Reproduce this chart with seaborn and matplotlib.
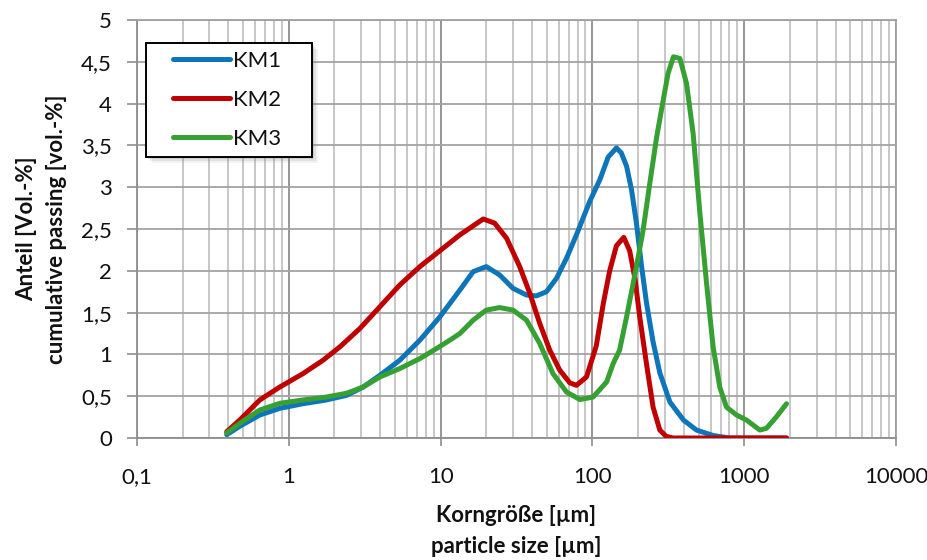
import matplotlib
matplotlib.use("Agg")
import matplotlib.pyplot as plt
import matplotlib.ticker as mticker
from matplotlib.patches import Rectangle
import seaborn as sns
import pandas as pd
import numpy as np

# ---- data ----
km1_x = [0.39, 0.475, 0.644, 0.873, 1.24, 1.77, 2.4, 3.09, 3.98, 5.38, 7.3, 9.9, 13.4, 16.4, 20, 24.5, 30,
         36.8, 42.8, 49.8, 58, 67.5, 78.5, 96, 112, 127, 144, 155, 168, 181, 195, 211, 227, 251, 278, 324,
         398, 485, 624, 800, 1200, 1900]
km1_y = [0.04, 0.14, 0.275, 0.355, 0.41, 0.455, 0.51, 0.61, 0.75, 0.93, 1.17, 1.45, 1.77, 1.99, 2.05, 1.95, 1.79,
         1.71, 1.70, 1.75, 1.91, 2.15, 2.43, 2.83, 3.09, 3.36, 3.47, 3.41, 3.25, 2.97, 2.57, 2.05, 1.62, 1.15, 0.78, 0.43,
         0.215, 0.095, 0.03, 0.0, 0.0, 0.0]

km2_x = [0.39, 0.475, 0.644, 0.873, 1.24, 1.68, 2.17, 2.94, 3.98, 5.38, 7.3, 9.9, 13.4, 19.1, 22.7, 27.2, 33.2,
         38.7, 45, 52.4, 61, 71, 78.5, 91.4, 106, 118, 130, 144, 161, 176, 191, 205, 227, 251, 278, 306, 340,
         600, 1000, 1900]
km2_y = [0.075, 0.215, 0.455, 0.61, 0.77, 0.93, 1.09, 1.31, 1.57, 1.83, 2.05, 2.24, 2.43, 2.62, 2.57, 2.39, 2.05,
         1.73, 1.37, 1.05, 0.81, 0.66, 0.63, 0.73, 1.10, 1.61, 2.0, 2.30, 2.40, 2.24, 1.90, 1.45, 0.89, 0.37, 0.095, 0.02, 0.0,
         0.0, 0.0, 0.0]

km3_x = [0.39, 0.475, 0.644, 0.873, 1.24, 1.77, 2.4, 3.09, 3.98, 5.38, 7.3, 9.4, 11.5, 13.4, 16.4, 20, 24.5, 30,
         36.8, 45, 55, 67.5, 82.7, 101, 112, 124, 137, 151, 168, 195, 216, 239, 265, 290, 315, 342, 377, 417, 461,
         510, 565, 624, 690, 764, 890, 1035, 1267, 1400, 1633, 1900]
km3_y = [0.06, 0.175, 0.335, 0.415, 0.455, 0.49, 0.535, 0.61, 0.73, 0.83, 0.95, 1.07, 1.17, 1.25, 1.41, 1.53, 1.56, 1.53,
         1.41, 1.13, 0.77, 0.55, 0.46, 0.49, 0.58, 0.67, 0.89, 1.05, 1.45, 2.05, 2.49, 3.05, 3.60, 4.0, 4.36, 4.56, 4.54, 4.24, 3.64,
         2.70, 1.85, 1.09, 0.61, 0.37, 0.275, 0.215, 0.095, 0.115, 0.255, 0.41]

series_names = ["KM1", "KM2", "KM3"]
colors = ["#0E75B8", "#C00000", "#37A032"]
x_ticks = [0.1, 1, 10, 100, 1000, 10000]
x_tick_labels = ["0,1", "1", "10", "100", "1000", "10000"]
y_ticks = [0, 0.5, 1, 1.5, 2, 2.5, 3, 3.5, 4, 4.5, 5]
y_tick_labels = ["0", "0,5", "1", "1,5", "2", "2,5", "3", "3,5", "4", "4,5", "5"]

df = pd.concat([
    pd.DataFrame({"x": km1_x, "y": km1_y, "s": "KM1"}),
    pd.DataFrame({"x": km2_x, "y": km2_y, "s": "KM2"}),
    pd.DataFrame({"x": km3_x, "y": km3_y, "s": "KM3"}),
], ignore_index=True)

sns.set_theme(style="white")
plt.rcParams["font.family"] = ["Lato", "DejaVu Sans"]

W, H = 928, 560
fig = plt.figure(figsize=(W / 100, H / 100), dpi=100)
ax = fig.add_axes([137 / W, 1 - 438 / H, (896 - 137) / W, (438 - 20) / H])

LW = 3.6
sns.lineplot(data=df, x="x", y="y", hue="s", hue_order=series_names,
             palette=colors, linewidth=LW, ax=ax, sort=False, zorder=3, legend=True)

ax.set_xscale("log")
ax.set_xlim(0.1, 10000)
ax.set_ylim(0, 5)
ax.set_xticks(x_ticks)
ax.set_xticklabels(x_tick_labels)
ax.xaxis.set_minor_locator(mticker.LogLocator(base=10, subs=np.arange(2, 10), numticks=100))
ax.xaxis.set_minor_formatter(mticker.NullFormatter())
ax.set_yticks(y_ticks)
ax.set_yticklabels(y_tick_labels)

ax.grid(True, which="major", axis="x", color="#8E8E8E", linewidth=1.3)
ax.grid(True, which="minor", axis="x", color="#BDBDBD", linewidth=1.2)
ax.grid(True, which="major", axis="y", color="#A3A3A3", linewidth=1.3)
for sp in ax.spines.values():
    sp.set_color("#A0A0A0")
    sp.set_linewidth(1.3)
ax.spines["left"].set_color("#8E8E8E")
ax.spines["bottom"].set_color("#8E8E8E")

ax.tick_params(axis="x", which="major", direction="out", length=6, width=1.2, color="#8E8E8E",
               labelsize=16, pad=15, bottom=True)
ax.tick_params(axis="x", which="minor", length=0)
ax.tick_params(axis="y", which="major", direction="out", length=7, width=1.2, color="#8E8E8E",
               labelsize=16, pad=11, left=True)
for lab in ax.get_xticklabels() + ax.get_yticklabels():
    lab.set_color("#111111")

ax.set_xlabel("Korngröße [µm]\nparticle size [µm]", fontsize=16, fontweight="bold",
              labelpad=13, linespacing=1.55, color="#111111")
ax.set_ylabel("Anteil [Vol.-%]\ncumulative passing [vol.-%]", fontsize=16, fontweight="bold",
              labelpad=10, linespacing=1.55, color="#111111")

# legend frame drawn manually (box with soft shadow), entries from seaborn's handles
bx0, by0, bx1, by1 = 146, 43, 312, 157
for k, a in [(6, 0.10), (4, 0.15), (2, 0.2)]:
    fig.patches.append(Rectangle(((bx0 + k) / W, 1 - (by1 + k) / H), (bx1 - bx0) / W, (by1 - by0) / H,
                                 transform=fig.transFigure, facecolor="#808080", alpha=a,
                                 edgecolor="none", zorder=5))
fig.patches.append(Rectangle((bx0 / W, 1 - by1 / H), (bx1 - bx0) / W, (by1 - by0) / H,
                             transform=fig.transFigure, facecolor="white", edgecolor="black",
                             linewidth=1.4, zorder=6))

handles, labels = ax.get_legend_handles_labels()
leg = fig.legend(handles, labels, loc="upper left", bbox_to_anchor=(173 / W, 1 - 51 / H),
                 bbox_transform=fig.transFigure, fontsize=16, frameon=False,
                 handlelength=2.55, handletextpad=0.15, labelspacing=0.86,
                 borderpad=0, borderaxespad=0)
leg.set_zorder(7)
if ax.get_legend() is not None:
    ax.get_legend().remove()
for h in leg.get_lines():
    h.set_linewidth(LW)
    h.set_solid_capstyle("round")
for t in leg.get_texts():
    t.set_color("#111111")
for line in ax.get_lines():
    line.set_solid_capstyle("round")
    line.set_solid_joinstyle("round")

fig.savefig("out.png", dpi=100)
